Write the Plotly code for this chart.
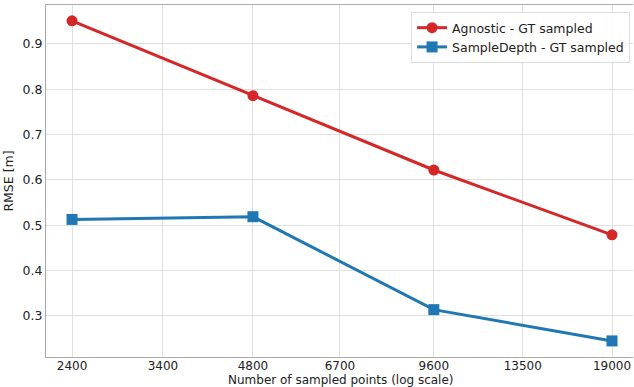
import plotly.graph_objects as go

x_points = [2400, 4800, 9600, 19000]
agnostic = [0.951, 0.786, 0.622, 0.479]
sampledepth = [0.513, 0.519, 0.314, 0.245]
x_ticks = [2400, 3400, 4800, 6700, 9600, 13500, 19000]
x_ticktext = ["2400", "3400", "4800", "6700", "9600", "13500", "19000"]
y_ticks = [0.3, 0.4, 0.5, 0.6, 0.7, 0.8, 0.9]

fig = go.Figure()
fig.add_trace(go.Scatter(x=x_points, y=agnostic, mode="lines+markers",
                         name="Agnostic - GT sampled",
                         line=dict(color="#d62728", width=3),
                         marker=dict(symbol="circle", size=11, color="#d62728")))
fig.add_trace(go.Scatter(x=x_points, y=sampledepth, mode="lines+markers",
                         name="SampleDepth - GT sampled",
                         line=dict(color="#1f77b4", width=3),
                         marker=dict(symbol="square", size=11, color="#1f77b4")))

fig.update_layout(
    width=634, height=387,
    margin=dict(l=46, r=1, t=5, b=30),
    paper_bgcolor="white", plot_bgcolor="white",
    font=dict(family="DejaVu Sans", size=12.5, color="#222"),
    xaxis=dict(type="log", range=[3.3369, 4.3137], tickvals=x_ticks, ticktext=x_ticktext,
               showgrid=True, gridcolor="#e0e0e0", gridwidth=1,
               showline=True, linecolor="#aaaaaa", linewidth=1, mirror=True,
               zeroline=False, ticks="", ticklen=0, ticklabelstandoff=-2,
               tickfont=dict(size=12)),
    yaxis=dict(range=[0.2095, 0.986], tickvals=y_ticks,
               showgrid=True, gridcolor="#e0e0e0", gridwidth=1,
               showline=True, linecolor="#aaaaaa", linewidth=1,
               zeroline=False, ticks="", ticklen=0,
               tickfont=dict(size=12.5),
               title=dict(text="RMSE [m]", font=dict(size=12.5), standoff=6)),
    legend=dict(x=0.995, y=0.98, xanchor="right", yanchor="top",
                bgcolor="rgba(255,255,255,0.9)", bordercolor="#dddddd", borderwidth=1,
                font=dict(size=12.5), tracegroupgap=0),
    showlegend=True,
    annotations=[dict(text="Number of sampled points (log scale)", xref="paper", yref="paper",
                      x=(341 - 46) / 587, y=-30 / 352, xanchor="center", yanchor="bottom",
                      showarrow=False, font=dict(size=12), yshift=-2)],
)
fig.write_html("out.html")
